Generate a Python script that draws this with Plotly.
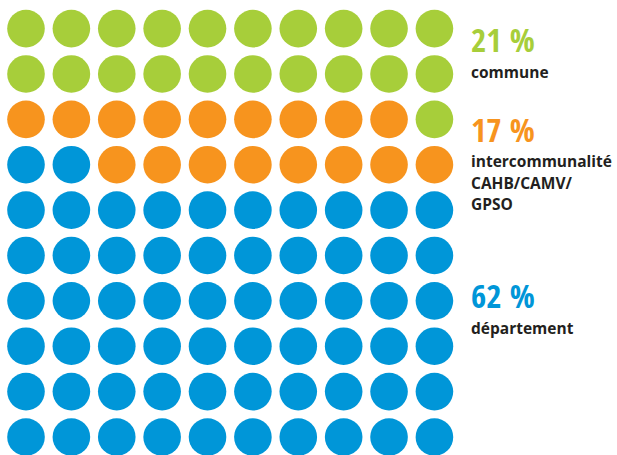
import plotly.graph_objects as go

# Share of each level of government (percent), filled from the bottom-left
categories = ["département", "intercommunalité<br>CAHB/CAMV/<br>GPSO", "commune"]
shares = [62, 17, 21]
colors = ["#0096D8", "#F7941E", "#A7CE3A"]

N_COLS = 10
N_ROWS = 10

W, H = 617, 455
PITCH = 45.38          # px between dot centres
FIRST_X = 26.0         # px, centre of left column
LAST_Y = 437.0         # px from top, centre of bottom row

fig = go.Figure()

# Assign each of the 100 cells to a category, row by row from the bottom
idx = 0
for cat, n, col in zip(categories, shares, colors):
    xs, ys = [], []
    for k in range(idx, idx + n):
        xs.append(k % N_COLS)
        ys.append(k // N_COLS)
    idx += n
    fig.add_trace(go.Scatter(
        x=xs, y=ys, mode="markers",
        marker=dict(size=37.6, color=col, line=dict(width=0)),
        hoverinfo="skip", showlegend=False,
    ))

xmin = -FIRST_X / PITCH
xmax = xmin + W / PITCH
ymin = -(H - LAST_Y) / PITCH
ymax = ymin + H / PITCH

fig.update_xaxes(range=[xmin, xmax], visible=False, fixedrange=True)
fig.update_yaxes(range=[ymin, ymax], visible=False, fixedrange=True)

# Labels on the right: big condensed percentage, then the category name
label_x = 470 / W
PCT_SIZE = 33
NAME_SIZE = 15.5
pct_baselines = [307.5, 141.0, 51.5]     # px from top
name_baselines = [332.5, 166.0, 77.0]

NAME_STYLE = f"font-size:{NAME_SIZE}px"

for cat, n, col, pb, nb in zip(categories, shares, colors, pct_baselines, name_baselines):
    fig.add_annotation(
        x=label_x, y=1 - (pb - 1.069 * PCT_SIZE) / H, xref="paper", yref="paper",
        xanchor="left", yanchor="top", showarrow=False, borderpad=0,
        text=f"<b>{n} %</b>", align="left",
        font=dict(family="Open Sans Condensed, Roboto Condensed, sans-serif",
                  size=PCT_SIZE, color=col),
    )
    name = "<br>".join(f"<span style=\"{NAME_STYLE}\"><b>{line}</b></span>"
                       for line in cat.split("<br>"))
    fig.add_annotation(
        x=label_x, y=1 - (nb - 1.069 * NAME_SIZE) / H, xref="paper", yref="paper",
        xanchor="left", yanchor="top", showarrow=False, borderpad=0,
        text=name, align="left",
        font=dict(family="Open Sans, sans-serif", size=16.6, color="#231F20"),
    )

fig.update_layout(
    width=W, height=H,
    margin=dict(l=0, r=0, t=0, b=0),
    paper_bgcolor="white", plot_bgcolor="white",
)

fig.write_html("out.html")
